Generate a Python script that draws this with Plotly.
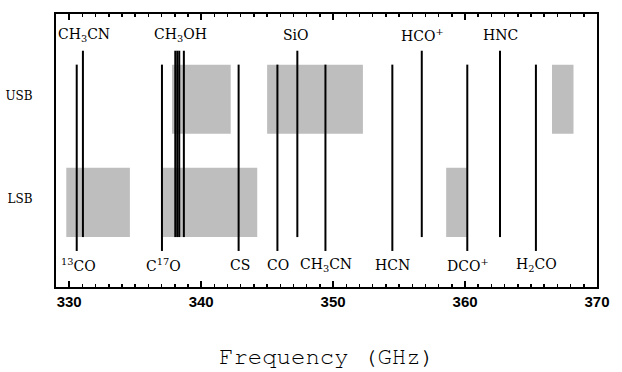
import plotly.graph_objects as go

# ---- data (GHz) ----
top_line_freq = [331.04, 338.04, 338.19, 338.34, 338.69, 347.29, 356.72, 362.65]
bottom_line_freq = [330.57, 337.03, 342.84, 345.78, 349.42, 354.49, 360.17, 365.37]

top_labels = ["CH<sub>3</sub>CN", "CH<sub>3</sub>OH", "SiO", "HCO<sup>+</sup>", "HNC"]
top_label_freq = [331.1, 338.4, 347.2, 356.8, 362.65]

bottom_labels = ["<sup>13</sup>CO", "C<sup>17</sup>O", "CS", "CO",
                 "CH<sub>3</sub>CN", "HCN", "DCO<sup>+</sup>", "H<sub>2</sub>CO"]
bottom_label_freq = [330.74, 337.12, 342.91, 345.81, 349.48, 354.49, 360.2, 365.4]

usb_box_start = [337.79, 345.0, 366.59]
usb_box_end = [342.24, 352.26, 368.22]
lsb_box_start = [329.78, 337.1, 358.57]
lsb_box_end = [334.6, 344.25, 360.13]

band_labels = ["USB", "LSB"]
x_ticks = [330, 340, 350, 360, 370]

# ---- vertical layout constants (y axis units) ----
USB_Y = (154.3, 224.0)
LSB_Y = (50.3, 120.0)
TOP_LINE_Y = (50.3, 238.0)
BOT_LINE_Y = (36.3, 224.0)
TOP_LABEL_Y = 254
BOT_LABEL_Y = 22
BAND_LABEL_Y = [193, 89]

fig = go.Figure()

def boxes(starts, ends, y0, y1):
    xs, ys = [], []
    for a, b in zip(starts, ends):
        xs += [a, b, b, a, a, None]
        ys += [y0, y0, y1, y1, y0, None]
    return xs, ys

for s, e, (y0, y1) in [(usb_box_start, usb_box_end, USB_Y), (lsb_box_start, lsb_box_end, LSB_Y)]:
    xs, ys = boxes(s, e, y0, y1)
    fig.add_trace(go.Scatter(x=xs, y=ys, fill="toself", fillcolor="#bebebe",
                             mode="lines", line=dict(width=0, color="#bebebe"),
                             hoverinfo="skip", showlegend=False))

def vlines(freqs, y0, y1):
    xs, ys = [], []
    for f in freqs:
        xs += [f, f, None]
        ys += [y0, y1, None]
    return xs, ys

for freqs, (y0, y1) in [(top_line_freq, TOP_LINE_Y), (bottom_line_freq, BOT_LINE_Y)]:
    xs, ys = vlines(freqs, y0, y1)
    fig.add_trace(go.Scatter(x=xs, y=ys, mode="lines",
                             line=dict(color="black", width=2),
                             hoverinfo="skip", showlegend=False))

# top axis carrying the mirrored major + minor ticks
fig.add_trace(go.Scatter(x=[330, 370], y=[None, None], xaxis="x2", mode="lines",
                         hoverinfo="skip", showlegend=False))

lab_font = dict(family="DejaVu Serif", size=14, color="black")
for t, f in zip(top_labels, top_label_freq):
    fig.add_annotation(x=f, y=TOP_LABEL_Y, text=t, showarrow=False,
                       xanchor="center", yanchor="middle", font=lab_font)
for t, f in zip(bottom_labels, bottom_label_freq):
    fig.add_annotation(x=f, y=BOT_LABEL_Y, text=t, showarrow=False,
                       xanchor="center", yanchor="middle", font=lab_font)

fig.add_annotation(x=0.5, y=-0.255, xref="paper", yref="paper",
                   text="Frequency (GHz)", showarrow=False,
                   xanchor="center", yanchor="middle",
                   font=dict(family="Nimbus Mono PS, FreeMono, Courier New, Courier, Liberation Mono",
                             size=24, color="black"))

tick_common = dict(range=[329, 370], tickvals=x_ticks,
                   ticks="inside", ticklen=6, tickwidth=2, tickcolor="black",
                   minor=dict(dtick=1, tick0=330, ticks="inside", ticklen=3,
                              tickwidth=1.5, tickcolor="black", showgrid=False),
                   showgrid=False, zeroline=False)

fig.update_layout(
    width=622, height=372,
    margin=dict(l=56, r=13, t=12, b=85),
    paper_bgcolor="white", plot_bgcolor="white",
    xaxis=dict(**tick_common,
               showline=True, linewidth=2, linecolor="black", mirror="ticks",
               tickfont=dict(family="Liberation Sans", size=15, color="black", weight="bold"),
               ticklabelstandoff=0),
    xaxis2=dict(**tick_common, overlaying="x", side="top", anchor="y",
                showticklabels=False, showline=False, visible=True),
    yaxis=dict(range=[0, 275], tickvals=BAND_LABEL_Y, ticktext=band_labels,
               ticks="", showline=True, linewidth=2, linecolor="black",
               mirror=True, showgrid=False, zeroline=False,
               tickfont=dict(family="DejaVu Serif", size=12, color="black"),
               ticklabelstandoff=19, automargin=False),
)

# remove the page's default body margin so the figure fills the window exactly
fig.write_html("out.html",
               config={"displayModeBar": False, "staticPlot": True},
               post_script="document.body.style.margin='0';document.body.style.overflow='hidden';")
